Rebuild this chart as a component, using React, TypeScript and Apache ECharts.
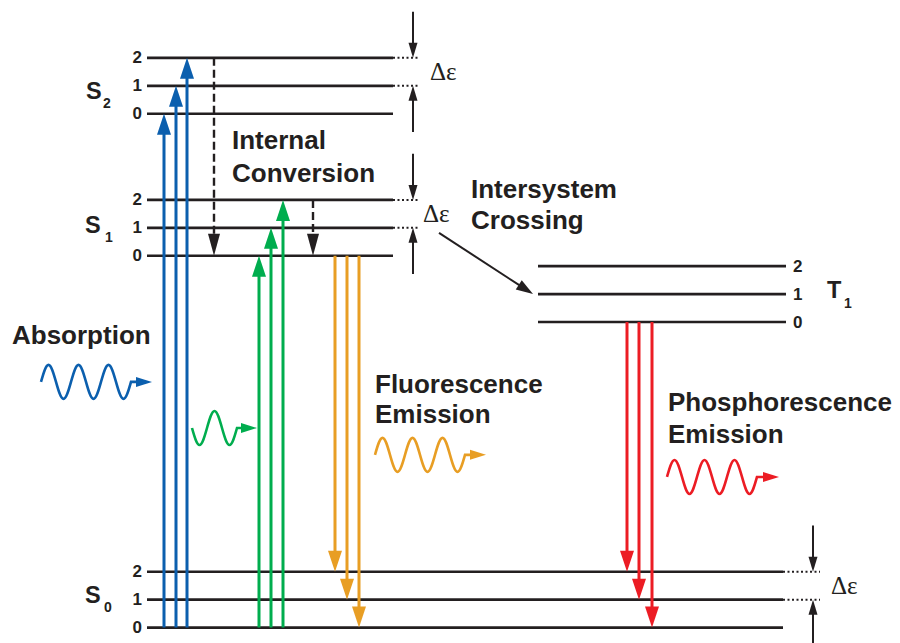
import { useEffect, useRef } from 'react';
import * as echarts from 'echarts';

// ---------------- data ----------------
// Energy is measured in units of one vibrational quantum; x is horizontal diagram position.
const stateLetters = ['S', 'S', 'S', 'T'];
const stateSubscripts = ['0', '1', '2', '1'];
const stateBaseEnergy = [0, 13.3, 18.38, 10.93]; // S0, S1, S2, T1 (v = 0)
const vibrationalLevels = [0, 1, 2];
const levelLabels = ['0', '1', '2'];
const levelStartX = [147, 147, 147, 538];
const levelEndX = [783, 393, 393, 786];
const dottedEndX = [820, 420, 420, 0]; // 0 = no dotted extension

// radiative / non-radiative transitions
const absorptionX = [164, 176, 187]; // S0 v0 -> S2 v0, v1, v2
const excitationX = [259, 271, 283]; // S0 v0 -> S1 v0, v1, v2
const fluorescenceX = [335, 347, 359]; // S1 v0 -> S0 v2, v1, v0
const phosphorescenceX = [627, 639, 652]; // T1 v0 -> S0 v2, v1, v0
const internalConversionX = [214, 313];
const internalConversionFrom = [20.38, 15.3]; // S2 v2, S1 v2 -> S1 v0
const iscStart = [439, 14.12];
const iscEnd = [533, 11.93];

// Δε gap markers (state index, x)
const gapStates = [2, 1, 0];
const gapX = [413, 413, 813];
const gapLabel = 'Δε';

// photon wave glyphs
const waveStartX = [41, 192, 375, 667];
const waveCenterE = [8.79, 7.14, 6.18, 5.39];
const waveHalfCycles = [6, 3, 6, 6];
const waveFirstUp = [1, 0, 1, 1];
const waveTipX = [152, 257, 486, 779];

// process captions
const captionLines = [
  'Absorption',
  'Internal', 'Conversion',
  'Intersystem', 'Crossing',
  'Fluorescence', 'Emission',
  'Phosphorescence', 'Emission',
];

// ---------------- style / layout ----------------
const INK = '#231f20';
const BLUE = '#0b5fae';
const GREEN = '#00ad4e';
const ORANGE = '#e89e24';
const RED = '#ec1c24';
const PALETTE = [INK, BLUE, GREEN, ORANGE, RED];
const waveColor = [1, 2, 3, 4];
const SANS = 'Liberation Sans';
const SERIF = 'Liberation Serif';
const captionPos = [
  [12, 334.5],
  [232, 139.5], [232, 172.5],
  [471, 189], [471, 219.5],
  [375, 383.5], [375, 413.5],
  [668, 402], [668, 434],
];
// state label offsets relative to (label x, v=1 level)
const stateLabelX = [85, 85, 86, 827];
const stateLabelDy = [-5, -3, 5.5, -4.5];
const subDx = [19, 20, 17, 17];
const subDy = [7.5, 9, 17, 9];
const gapTextDx = [17, 10, 18];
const GAP_ARROW_LEN = 1.65; // in energy units

const arrowStyles = [
  { lw: 3, len: 21, half: 7, dash: null as number[] | null },
  { lw: 2.4, len: 22, half: 6, dash: [8, 4] },
  { lw: 2, len: 17, half: 5.5, dash: null },
  { lw: 2, len: 15, half: 4.5, dash: null },
];

function arrowEls(api: any, x0: number, e0: number, x1: number, e1: number, color: string, st: any) {
  const a = api.coord([x0, e0]);
  const b = api.coord([x1, e1]);
  const dx = b[0] - a[0];
  const dy = b[1] - a[1];
  const L = Math.hypot(dx, dy) || 1;
  const ux = dx / L;
  const uy = dy / L;
  const bx = b[0] - ux * st.len;
  const by = b[1] - uy * st.len;
  const px = -uy * st.half;
  const py = ux * st.half;
  return [
    {
      type: 'line',
      shape: { x1: a[0], y1: a[1], x2: bx + ux * 2, y2: by + uy * 2 },
      style: { stroke: color, lineWidth: st.lw, lineDash: st.dash, fill: null },
    },
    {
      type: 'polygon',
      shape: { points: [[b[0], b[1]], [bx + px, by + py], [bx - px, by - py]] },
      style: { fill: color, stroke: null },
    },
  ];
}

function textEl(x: number, y: number, text: string, size: number, family: string, weight: string, align = 'left') {
  return {
    type: 'text',
    x,
    y,
    style: {
      text,
      fontSize: size,
      fontFamily: family,
      fontWeight: weight,
      fill: INK,
      align,
      verticalAlign: 'middle',
      textAlign: align,
      textVerticalAlign: 'middle',
    },
  };
}

export default function App() {
  const ref = useRef<HTMLDivElement>(null);

  useEffect(() => {
    if (!ref.current) return;
    const chart = echarts.init(ref.current, null, { renderer: 'svg' });

    // energy levels: [x0, x1, E, dotted]
    const levelData: number[][] = [];
    const levelLabelData: number[][] = [];
    stateBaseEnergy.forEach((base, s) => {
      vibrationalLevels.forEach((v) => {
        const e = base + v;
        levelData.push([levelStartX[s], levelEndX[s], e, 0]);
        if (v > 0 && dottedEndX[s] > 0) levelData.push([levelEndX[s], dottedEndX[s], e, 1]);
        levelLabelData.push([s === 3 ? levelEndX[s] + 7 : levelStartX[s] - 5, e, s, v]);
      });
    });

    // transitions: [x0, E0, x1, E1, colorIdx, styleIdx]
    const arrowData: number[][] = [];
    absorptionX.forEach((x, i) => arrowData.push([x, stateBaseEnergy[0], x, stateBaseEnergy[2] + vibrationalLevels[i], 1, 0]));
    excitationX.forEach((x, i) => arrowData.push([x, stateBaseEnergy[0], x, stateBaseEnergy[1] + vibrationalLevels[i], 2, 0]));
    fluorescenceX.forEach((x, i) => arrowData.push([x, stateBaseEnergy[1], x, stateBaseEnergy[0] + vibrationalLevels[2 - i], 3, 0]));
    phosphorescenceX.forEach((x, i) => arrowData.push([x, stateBaseEnergy[3], x, stateBaseEnergy[0] + vibrationalLevels[2 - i], 4, 0]));
    internalConversionX.forEach((x, i) => arrowData.push([x, internalConversionFrom[i], x, stateBaseEnergy[1], 0, 1]));
    arrowData.push([iscStart[0], iscStart[1], iscEnd[0], iscEnd[1], 0, 2]);

    // gap markers: [x, E(v1), E(v2), idx]
    const gapData = gapStates.map((s, i) => [gapX[i], stateBaseEnergy[s] + 1, stateBaseEnergy[s] + 2, i]);

    // waves: [x0, Ec, idx]
    const waveData = waveStartX.map((x, i) => [x, waveCenterE[i], i]);

    // state labels: [x, E(v1), s]
    const stateData = stateBaseEnergy.map((b, s) => [stateLabelX[s], b + 1, s]);

    const AMP = 17;
    const PERIOD = 30;

    chart.setOption({
      animation: false,
      grid: { left: 0, right: 0, top: 0, bottom: 0 },
      xAxis: { type: 'value', min: 0, max: 900, show: false },
      yAxis: { type: 'value', min: -0.55, max: 22.45, show: false },
      series: [
        {
          type: 'custom',
          name: 'levels',
          silent: true,
          clip: false,
          data: levelData,
          renderItem: (_p: any, api: any) => {
            const a = api.coord([api.value(0), api.value(2)]);
            const b = api.coord([api.value(1), api.value(2)]);
            const dotted = api.value(3) === 1;
            return {
              type: 'line',
              shape: { x1: a[0], y1: a[1], x2: b[0], y2: b[1] },
              style: { stroke: INK, lineWidth: dotted ? 2 : 2.6, lineDash: dotted ? [2, 2.5] : null },
            };
          },
        },
        {
          type: 'custom',
          name: 'levelLabels',
          silent: true,
          clip: false,
          data: levelLabelData,
          renderItem: (_p: any, api: any) => {
            const p = api.coord([api.value(0), api.value(1)]);
            const s = api.value(2);
            return textEl(p[0], p[1], levelLabels[api.value(3)], 17, SANS, 'bold', s === 3 ? 'left' : 'right');
          },
        },
        {
          type: 'custom',
          name: 'states',
          silent: true,
          clip: false,
          data: stateData,
          renderItem: (_p: any, api: any) => {
            const p = api.coord([api.value(0), api.value(1)]);
            const s = api.value(2);
            return {
              type: 'group',
              children: [
                textEl(p[0], p[1] + stateLabelDy[s], stateLetters[s], 23.5, SANS, 'bold'),
                textEl(p[0] + subDx[s], p[1] + subDy[s], stateSubscripts[s], 14, SANS, 'bold'),
              ],
            };
          },
        },
        {
          type: 'custom',
          name: 'transitions',
          silent: true,
          clip: false,
          data: arrowData,
          renderItem: (_p: any, api: any) => ({
            type: 'group',
            children: arrowEls(
              api,
              api.value(0),
              api.value(1),
              api.value(2),
              api.value(3),
              PALETTE[api.value(4)],
              arrowStyles[api.value(5)]
            ),
          }),
        },
        {
          type: 'custom',
          name: 'gaps',
          silent: true,
          clip: false,
          data: gapData,
          renderItem: (_p: any, api: any) => {
            const x = api.value(0);
            const eLow = api.value(1);
            const eHigh = api.value(2);
            const i = api.value(3);
            const mid = api.coord([x, (eLow + eHigh) / 2]);
            return {
              type: 'group',
              children: [
                ...arrowEls(api, x, eHigh + GAP_ARROW_LEN, x, eHigh, INK, arrowStyles[3]),
                ...arrowEls(api, x, eLow - GAP_ARROW_LEN, x, eLow, INK, arrowStyles[3]),
                textEl(mid[0] + gapTextDx[i], mid[1], gapLabel, 25, SERIF, 'normal'),
              ],
            };
          },
        },
        {
          type: 'custom',
          name: 'photons',
          silent: true,
          clip: false,
          data: waveData,
          renderItem: (_p: any, api: any) => {
            const i = api.value(2);
            const p = api.coord([api.value(0), api.value(1)]);
            const tip = api.coord([waveTipX[i], api.value(1)]);
            const color = PALETTE[waveColor[i]];
            const q = PERIOD / 4;
            const yc = p[1];
            let x = p[0];
            let sign = waveFirstUp[i] ? -1 : 1;
            let d = `M${x},${yc}`;
            for (let k = 0; k < waveHalfCycles[i]; k++) {
              const h = sign * AMP;
              d += ` C${x + 0.3261 * q},${yc + 0.5123 * h} ${x + 0.6385 * q},${yc + h} ${x + q},${yc + h}`;
              d += ` C${x + 1.3615 * q},${yc + h} ${x + 1.6739 * q},${yc + 0.5123 * h} ${x + 2 * q},${yc}`;
              x += 2 * q;
              sign = -sign;
            }
            const headLen = 16;
            const half = 5;
            d += ` L${tip[0] - headLen + 2},${yc}`;
            return {
              type: 'group',
              children: [
                { type: 'path', shape: { pathData: d }, style: { stroke: color, lineWidth: 2.6, fill: null } },
                {
                  type: 'polygon',
                  shape: { points: [[tip[0], yc], [tip[0] - headLen, yc - half], [tip[0] - headLen, yc + half]] },
                  style: { fill: color, stroke: null },
                },
              ],
            };
          },
        },
      ],
      graphic: captionLines.map((t, i) => ({
        ...textEl(captionPos[i][0], captionPos[i][1], t, 26, SANS, 'bold'),
        silent: true,
      })),
    });

    return () => chart.dispose();
  }, []);

  return (
    <div
      ref={ref}
      style={{ position: 'absolute', left: 0, top: 0, width: 900, height: 643, background: '#ffffff' }}
    />
  );
}
